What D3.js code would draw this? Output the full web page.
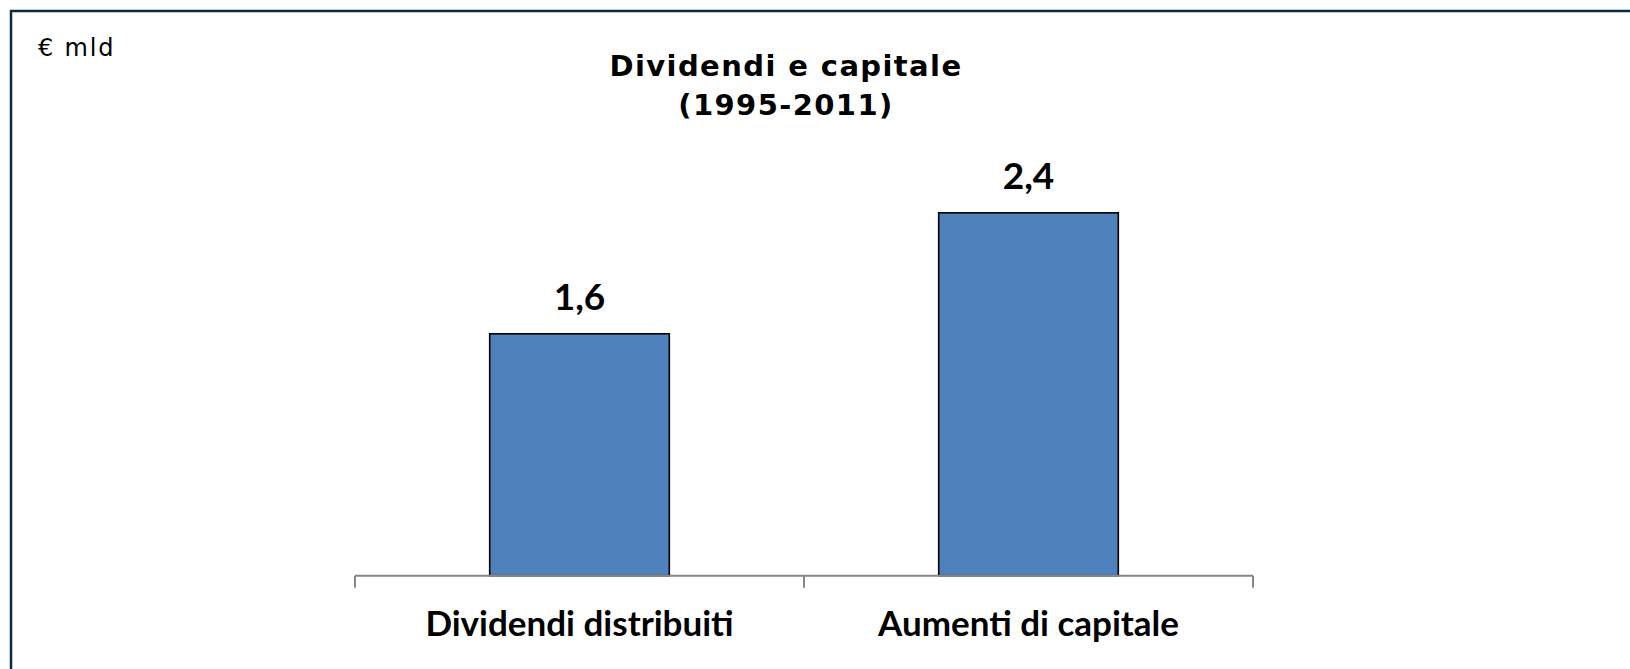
<!DOCTYPE html>
<html>
<head>
<meta charset="utf-8">
<script src="https://cdn.jsdelivr.net/npm/d3@7"></script>
<style>
  html, body { margin: 0; padding: 0; background: #ffffff; }
  svg { display: block; }
</style>
</head>
<body>
<div id="chart"></div>
<script>
// Dividends paid out vs. capital increases, 1995-2011 (€ billions)
const categories = ["Dividendi distribuiti", "Aumenti di capitale"];
const values = [1.6, 2.4];
const valueLabels = ["1,6", "2,4"];
const titleLines = ["Dividendi e capitale", "(1995-2011)"];
const unitLabel = "€ mld";

const W = 1630, H = 669;

const svg = d3.select("#chart").append("svg")
  .attr("width", W).attr("height", H);

svg.append("rect").attr("width", W).attr("height", H).attr("fill", "#ffffff");

// open frame: left and top edges only
svg.append("path")
  .attr("d", `M11,${H + 2} L11,11 L${W + 2},11`)
  .attr("fill", "none")
  .attr("stroke", "#0d2a48")
  .attr("stroke-width", 2.5);

const plot = { left: 355, right: 1253, top: 122.1, bottom: 575.7 };

const x = d3.scaleBand()
  .domain(categories)
  .range([plot.left, plot.right])
  .paddingInner(0.6)
  .paddingOuter(0.3);

const y = d3.scaleLinear()
  .domain([0, 3])
  .range([plot.bottom, plot.top]);

// bars
svg.append("g").selectAll("rect")
  .data(values)
  .join("rect")
  .attr("x", (d, i) => x(categories[i]))
  .attr("y", d => y(d))
  .attr("width", x.bandwidth())
  .attr("height", d => y(0) - y(d))
  .attr("fill", "#4f81bd")
  .attr("stroke", "#000000")
  .attr("stroke-width", 1.6);

// category axis with boundary ticks
const step = x.step();
const boundaries = [plot.left, plot.left + step, plot.left + 2 * step];
const axis = svg.append("g").attr("stroke", "#868686").attr("stroke-width", 2);
axis.append("line")
  .attr("x1", plot.left).attr("x2", plot.right)
  .attr("y1", y(0)).attr("y2", y(0));
axis.selectAll("line.tick")
  .data(boundaries)
  .join("line")
  .attr("class", "tick")
  .attr("x1", d => d).attr("x2", d => d)
  .attr("y1", y(0)).attr("y2", y(0) + 12);

// category labels
svg.append("g").selectAll("text")
  .data(categories)
  .join("text")
  .attr("x", d => x(d) + x.bandwidth() / 2)
  .attr("y", 636)
  .attr("text-anchor", "middle")
  .attr("font-family", "Lato, 'Open Sans', sans-serif")
  .attr("font-weight", "bold")
  .attr("font-size", 35)
  .attr("fill", "#000000")
  .text(d => d);

// value labels above bars
svg.append("g").selectAll("text")
  .data(values)
  .join("text")
  .attr("x", (d, i) => x(categories[i]) + x.bandwidth() / 2)
  .attr("y", d => y(d) - 24)
  .attr("text-anchor", "middle")
  .attr("font-family", "Lato, 'Open Sans', sans-serif")
  .attr("font-weight", "bold")
  .attr("font-size", 37)
  .attr("fill", "#000000")
  .text((d, i) => valueLabels[i]);

// title
svg.append("g").selectAll("text")
  .data(titleLines)
  .join("text")
  .attr("x", 786)
  .attr("y", (d, i) => 76 + i * 39)
  .attr("text-anchor", "middle")
  .attr("font-family", "'DejaVu Sans', Verdana, sans-serif")
  .attr("font-weight", "bold")
  .attr("font-size", 29)
  .attr("letter-spacing", 1.4)
  .attr("fill", "#000000")
  .text(d => d);

// unit label
svg.append("text")
  .attr("x", 38)
  .attr("y", 56)
  .attr("font-family", "'DejaVu Sans', Verdana, sans-serif")
  .attr("font-size", 24)
  .attr("letter-spacing", 1.8)
  .attr("fill", "#000000")
  .text(unitLabel);
</script>
</body>
</html>
